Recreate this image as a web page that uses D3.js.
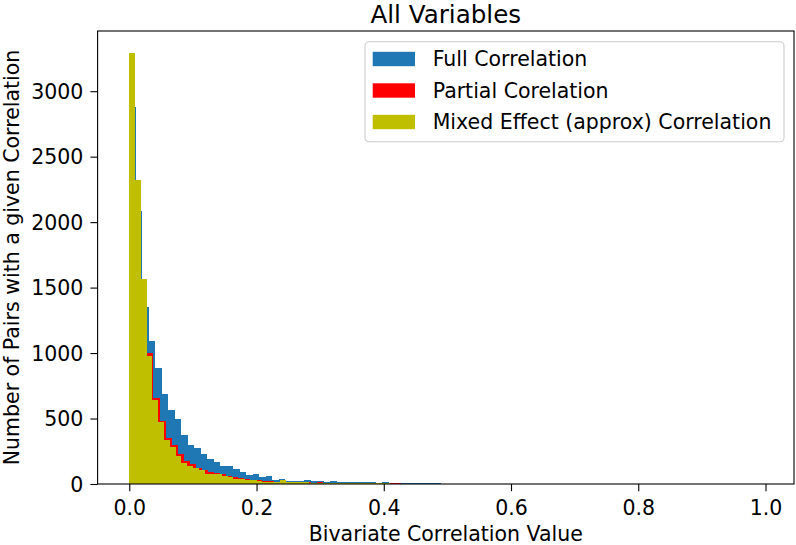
<!DOCTYPE html>
<html><head><meta charset="utf-8">
<script src="https://cdn.jsdelivr.net/npm/d3@7"></script>
<style>body{margin:0;background:#fff} svg text{font-family:"DejaVu Sans",sans-serif;fill:#000}</style>
</head><body><svg id="c" width="796" height="545"></svg>
<script>
const title = "All Variables";
const xLabel = "Bivariate Correlation Value";
const yLabel = "Number of Pairs with a given Correlation";
const seriesNames = ["Full Correlation", "Partial Corelation", "Mixed Effect (approx) Correlation"];
const seriesColors = ["#1f77b4", "#ff0000", "#bfbf00"];
// bin widths (in correlation units) for each histogram, all starting at 0
const binWidths = [0.0102, 0.0095, 0.0091];
const fullCounts = [2878, 2082, 1352, 1093, 885, 686, 564, 496, 374, 297, 275, 229, 188, 165, 137, 137, 112, 94, 69, 74, 56, 61, 31, 36, 25, 20, 25, 31, 20, 22, 18, 20, 15, 18, 14, 16, 12, 14, 10, 12, 9, 8, 10, 7, 6, 8, 5, 4, 3, 2];
const partialCounts = [3250, 2270, 1100, 1000, 655, 480, 350, 300, 230, 175, 150, 125, 110, 90, 82, 80, 60, 55, 45, 38, 30, 28, 25, 20, 18, 15, 15, 14, 12, 13, 11, 12, 10, 11, 9, 10, 8, 9, 7, 8, 6, 6, 5, 5, 4, 3, 3, 2, 1];
const mixedCounts = [3295, 2323, 1564, 980, 640, 470, 335, 282, 214, 160, 140, 120, 107, 80, 76, 80, 60, 50, 40, 38, 30, 28, 25, 18, 18, 15, 30, 12, 14, 12, 12, 10, 11, 9, 10, 8, 9, 7, 8, 6, 7, 5, 6, 4, 5, 3, 3, 2, 2, 1];
const xTicks = [0.0, 0.2, 0.4, 0.6, 0.8, 1.0];
const yTicks = [0, 500, 1000, 1500, 2000, 2500, 3000];

const allCounts = [fullCounts, partialCounts, mixedCounts];
const svg = d3.select("#c");
const m = {left: 97.6, right: 794, top: 31, bottom: 484};
const x = d3.scaleLinear().domain([-0.0498, 1.0448]).range([m.left, m.right]);
const yMax = 1.05 * d3.max(allCounts, c => d3.max(c));
const y = d3.scaleLinear().domain([0, yMax]).range([m.bottom, m.top]);
const FS = 20.5;

const plot = svg.append("g");
allCounts.forEach((counts, s) => {
  const w = binWidths[s];
  const data = counts.map((c, i) => ({x0: i * w, x1: (i + 1) * w, c})).filter(d => d.c > 0);
  plot.append("g").selectAll("rect").data(data).join("rect")
    .attr("x", d => x(d.x0)).attr("width", d => x(d.x1) - x(d.x0))
    .attr("y", d => y(d.c)).attr("height", d => y(0) - y(d.c))
    .attr("fill", seriesColors[s]).attr("shape-rendering", "crispEdges");
});

// axes
const xAxis = d3.axisBottom(x).tickValues(xTicks).tickFormat(d3.format(".1f")).tickSize(7.2).tickPadding(9);
const yAxis = d3.axisLeft(y).tickValues(yTicks).tickFormat(d3.format("d")).tickSize(7.2).tickPadding(7);
const gx = svg.append("g").attr("transform", `translate(0,${m.bottom})`).call(xAxis);
const gy = svg.append("g").attr("transform", `translate(${m.left},0)`).call(yAxis);
[gx, gy].forEach(g => {
  g.select(".domain").remove();
  g.selectAll("line").attr("stroke", "#000").attr("stroke-width", 1.1);
  g.selectAll("text").attr("font-size", FS).attr("font-family", "DejaVu Sans");
});
gy.selectAll("text").attr("dy", "0.35em");
svg.append("rect").attr("x", m.left).attr("y", m.top).attr("width", m.right - m.left).attr("height", m.bottom - m.top)
  .attr("fill", "none").attr("stroke", "#000").attr("stroke-width", 1.1);

svg.append("text").attr("x", (m.left + m.right) / 2).attr("y", 22.5).attr("text-anchor", "middle").attr("font-size", 24.6).text(title);
svg.append("text").attr("x", (m.left + m.right) / 2).attr("y", 541).attr("text-anchor", "middle").attr("font-size", FS).text(xLabel);
svg.append("text").attr("transform", `translate(19,${(m.top + m.bottom) / 2}) rotate(-90)`).attr("text-anchor", "middle").attr("font-size", FS).text(yLabel);

// legend
const lg = svg.append("g");
lg.append("rect").attr("x", 365).attr("y", 41.7).attr("width", 419).attr("height", 100).attr("rx", 4)
  .attr("fill", "#fff").attr("fill-opacity", 0.8).attr("stroke", "#cccccc").attr("stroke-width", 1.1);
seriesNames.forEach((n, i) => {
  const cy = 59 + i * 31.5;
  lg.append("rect").attr("x", 372.7).attr("y", cy - 7.2).attr("width", 42.3).attr("height", 14.4).attr("fill", seriesColors[i]);
  lg.append("text").attr("x", 432.7).attr("y", cy + 7.3).attr("font-size", FS).text(n);
});
</script></body></html>
